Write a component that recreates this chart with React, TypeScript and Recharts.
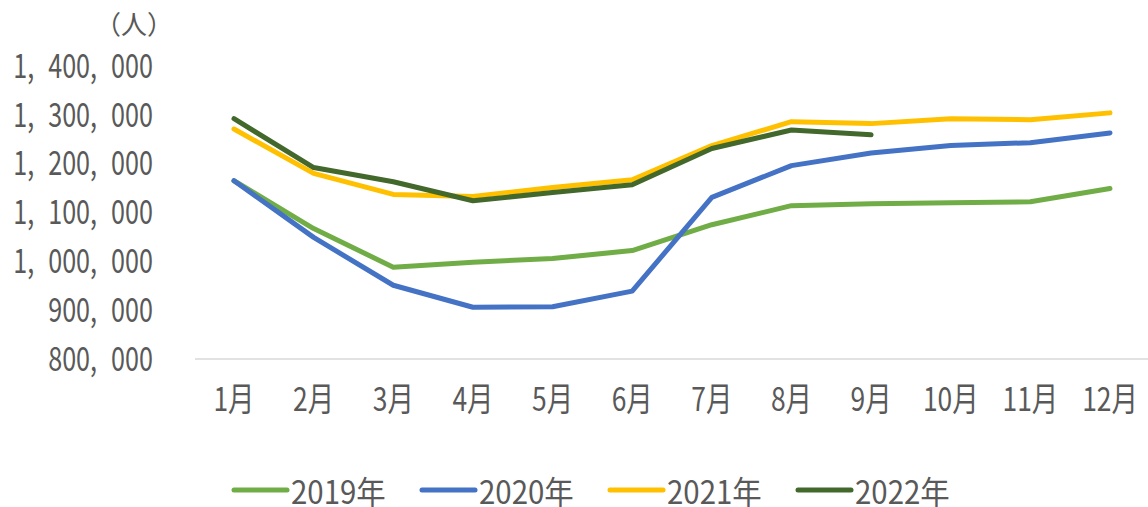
import { LineChart, Line, XAxis, YAxis, Legend } from "recharts";

const months = ["1月", "2月", "3月", "4月", "5月", "6月", "7月", "8月", "9月", "10月", "11月", "12月"];
const yTicks = [800000, 900000, 1000000, 1100000, 1200000, 1300000, 1400000];

const y2019 = [1165000, 1067000, 988000, 998000, 1006000, 1022000, 1075000, 1114000, 1118000, 1120000, 1122000, 1149000];
const y2020 = [1165000, 1049000, 951000, 906000, 907000, 939000, 1131000, 1196000, 1222000, 1237000, 1243000, 1263000];
const y2021 = [1271000, 1180000, 1137000, 1133000, 1151000, 1167000, 1237000, 1286000, 1282000, 1292000, 1290000, 1304000];
const y2022 = [1292000, 1192000, 1163000, 1124000, 1141000, 1157000, 1231000, 1269000, 1259000];

const series = [
  { key: "2019年", color: "#70AD47", values: y2019 },
  { key: "2020年", color: "#4472C4", values: y2020 },
  { key: "2021年", color: "#FFC000", values: y2021 },
  { key: "2022年", color: "#43682B", values: y2022 },
];

const data = months.map((m, i) => {
  const row: Record<string, string | number | null> = { month: m };
  series.forEach((s) => {
    row[s.key] = i < s.values.length ? s.values[i] : null;
  });
  return row;
});

const FONT = "'Noto Sans CJK JP', sans-serif";
const TEXT = "#595959";

// condensed look of the original font, with a wide gap after each comma
function YTick(props: any) {
  const { x, y, payload } = props;
  const parts = Number(payload.value).toLocaleString("en-US").split(",");
  return (
    <text
      transform={`translate(${x},${y - 3}) scale(0.74,1)`}
      textAnchor="end"
      dominantBaseline="central"
      fontFamily={FONT}
      fontSize={34}
      fill={TEXT}
    >
      {parts.map((p, i) => (
        <tspan key={i} dx={i ? 19 : 0}>
          {p + (i < parts.length - 1 ? "," : "")}
        </tspan>
      ))}
    </text>
  );
}

function XTick(props: any) {
  const { x, y, payload } = props;
  return (
    <text
      transform={`translate(${x},${y}) scale(0.8,1)`}
      textAnchor="middle"
      dominantBaseline="central"
      fontFamily={FONT}
      fontSize={33}
      fill={TEXT}
    >
      {payload.value}
    </text>
  );
}

function LegendContent() {
  return (
    <svg width={1148} height={40} style={{ display: "block" }}>
      {series.map((s, i) => (
        <g key={s.key} transform={`translate(${232 + i * 188},23)`}>
          <line x1={2} y1={0} x2={55} y2={0} stroke={s.color} strokeWidth={5} strokeLinecap="round" />
          <text x={59 / 0.92} transform="scale(0.92,1)" dominantBaseline="central" fontFamily={FONT} fontSize={32} fill={TEXT}>
            {s.key}
          </text>
        </g>
      ))}
    </svg>
  );
}

export default function App() {
  return (
    <div style={{ position: "absolute", left: 0, top: 0, width: 1148, height: 507, background: "#fff" }}>
      <div style={{ position: "absolute", left: 95, top: 4, fontFamily: FONT, fontSize: 26, color: TEXT }}>
        （人）
      </div>
      <LineChart width={1148} height={507} data={data} margin={{ top: 66, right: 0, left: 0, bottom: 0 }}>
        <XAxis
          dataKey="month"
          padding={{ left: 39, right: 38 }}
          tickLine={false}
          tickSize={0}
          tickMargin={38}
          height={108}
          axisLine={{ stroke: "#D9D9D9", strokeWidth: 1.5 }}
          tick={<XTick />}
          interval={0}
        />
        <YAxis
          domain={[800000, 1400000]}
          ticks={yTicks}
          width={195}
          axisLine={false}
          tickLine={false}
          tickSize={0}
          tickMargin={42}
          tick={<YTick />}
        />
        <Legend verticalAlign="bottom" height={40} content={<LegendContent />} />
        {series.map((s) => (
          <Line
            key={s.key}
            dataKey={s.key}
            stroke={s.color}
            strokeWidth={5}
            strokeLinecap="round"
            strokeLinejoin="round"
            dot={false}
            activeDot={false}
            type="linear"
            isAnimationActive={false}
          />
        ))}
      </LineChart>
    </div>
  );
}
